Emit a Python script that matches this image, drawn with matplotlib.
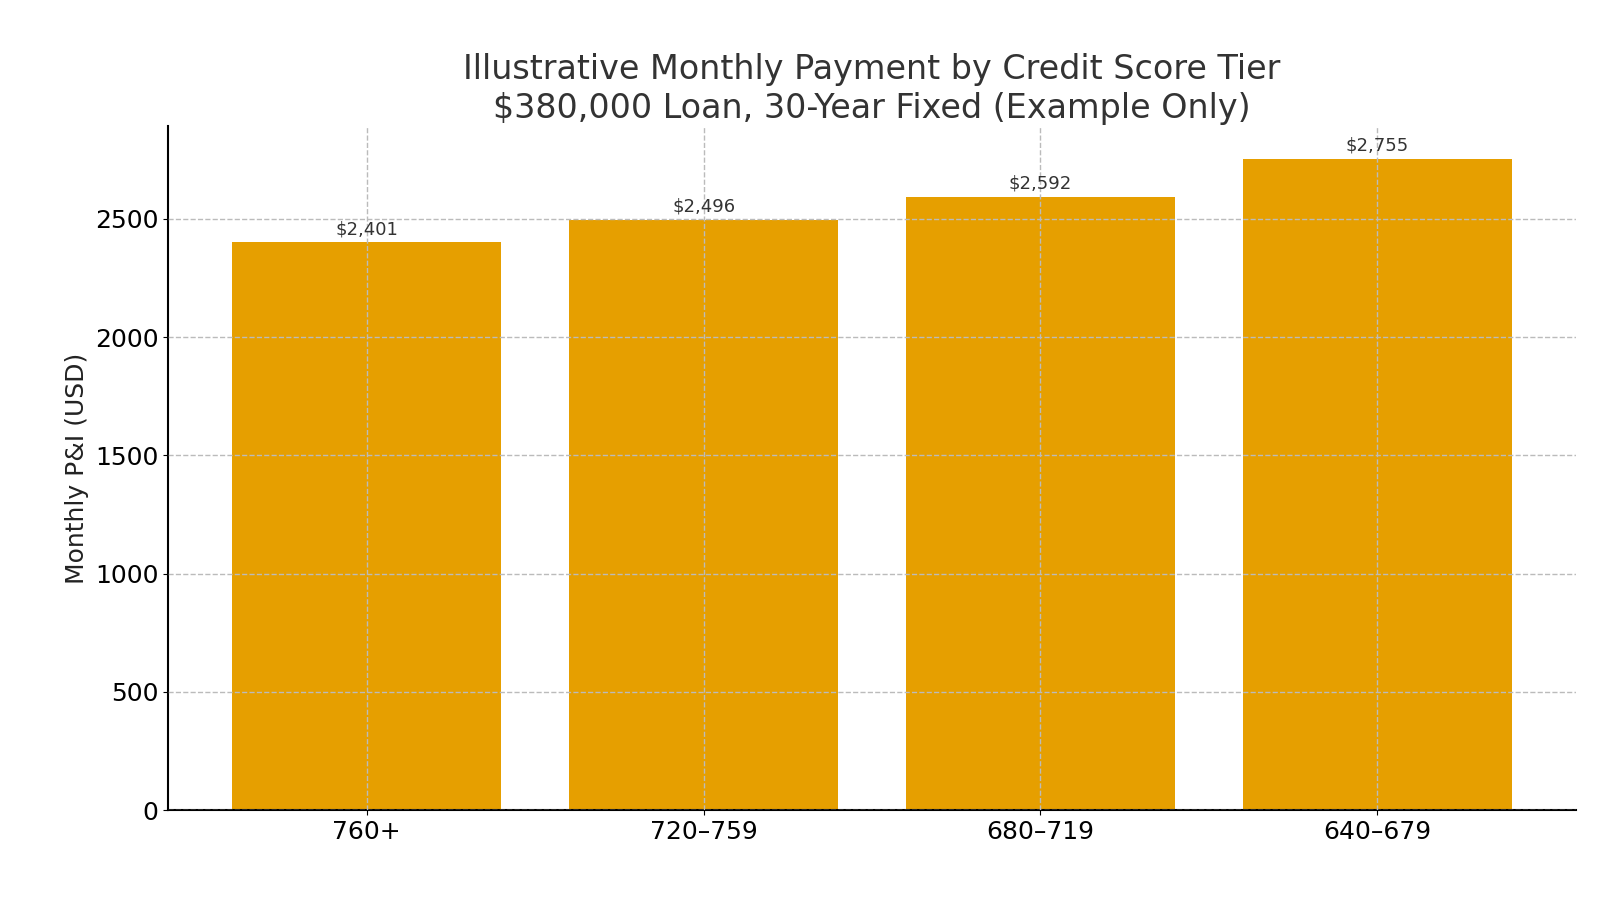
import matplotlib
matplotlib.use("Agg")
import matplotlib.pyplot as plt

tiers = ["760+", "720–759", "680–719", "640–679"]
payments = [2401, 2496, 2592, 2755]
labels = ["$2,401", "$2,496", "$2,592", "$2,755"]

fig, ax = plt.subplots(figsize=(16, 9), dpi=100)
fig.subplots_adjust(left=0.105, right=0.985, top=0.86, bottom=0.1)
bars = ax.bar(tiers, payments, color="#E69F00", width=0.8)
for b, t in zip(bars, labels):
    ax.annotate(t, (b.get_x() + b.get_width() / 2, b.get_height()),
                xytext=(0, 3), textcoords="offset points",
                ha="center", va="bottom", fontsize=13, color="#333333")
ax.set_title("Illustrative Monthly Payment by Credit Score Tier\n$380,000 Loan, 30-Year Fixed (Example Only)",
             fontsize=24, color="#333333")
ax.set_ylabel("Monthly P&I (USD)", fontsize=18, color="#222222")
ax.tick_params(labelsize=18)
ax.grid(True, linestyle="--", color="#bbbbbb", linewidth=1)
ax.set_axisbelow(False)
ax.spines["top"].set_visible(False)
ax.spines["right"].set_visible(False)
ax.spines["left"].set_linewidth(1.5)
ax.spines["bottom"].set_linewidth(1.5)
fig.savefig("out.png")
